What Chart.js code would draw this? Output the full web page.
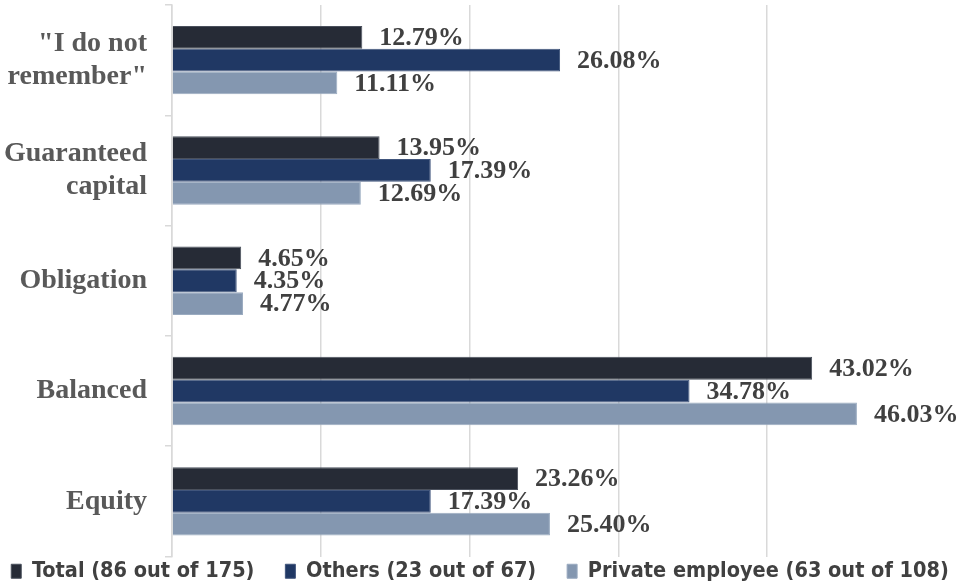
<!DOCTYPE html>
<html>
<head>
<meta charset="utf-8">
<script src="https://cdn.jsdelivr.net/npm/chart.js"></script>
<style>
  html, body { margin: 0; padding: 0; background: #fff; }
  #wrap { width: 960px; height: 585px; }
</style>
</head>
<body>
<div id="wrap"><canvas id="c"></canvas></div>
<script>
// categories, top to bottom
const categories = [['"I do not', 'remember"'], ['Guaranteed', 'capital'], 'Obligation', 'Balanced', 'Equity'];

// series values (percent)
const totalValues   = [12.79, 13.95, 4.65, 43.02, 23.26];
const othersValues  = [26.08, 17.39, 4.35, 34.78, 17.39];
const privateValues = [11.11, 12.69, 4.77, 46.03, 25.40];

const seriesNames = ['Total (86 out of 175)', 'Others (23 out of 67)', 'Private employee (63 out of 108)'];

const serif = '"Liberation Serif", "DejaVu Serif", serif';
const condensed = '"DejaVu Sans Condensed", "DejaVu Sans", sans-serif';

// draws the percentage next to the end of every bar
const valueLabels = {
  id: 'valueLabels',
  afterDatasetsDraw(chart) {
    const ctx = chart.ctx;
    ctx.save();
    ctx.font = 'bold 26px ' + serif;
    ctx.fillStyle = '#404040';
    ctx.textAlign = 'left';
    ctx.textBaseline = 'middle';
    chart.data.datasets.forEach((ds, i) => {
      const meta = chart.getDatasetMeta(i);
      meta.data.forEach((bar, j) => {
        ctx.fillText(ds.data[j].toFixed(2) + '%', bar.x + 17, bar.y + 1);
      });
    });
    ctx.restore();
  }
};

new Chart(document.getElementById('c'), {
  type: 'bar',
  data: {
    labels: categories,
    datasets: [
      { label: seriesNames[0], data: totalValues,   backgroundColor: '#262b36', borderColor: '#4a505c', borderWidth: 1 },
      { label: seriesNames[1], data: othersValues,  backgroundColor: '#203864', borderColor: '#40557c', borderWidth: 1 },
      { label: seriesNames[2], data: privateValues, backgroundColor: '#8497b0', borderColor: '#9aabc0', borderWidth: 1 }
    ]
  },
  options: {
    indexAxis: 'y',
    responsive: true,
    maintainAspectRatio: false,
    animation: false,
    categoryPercentage: 0.62,
    barPercentage: 1.0,
    layout: { padding: { top: 5, right: 0, left: 0, bottom: -7 } },
    plugins: {
      tooltip: { enabled: false },
      legend: {
        position: 'bottom',
        labels: {
          boxWidth: 10,
          boxHeight: 14,
          padding: 4,
          color: '#404040',
          font: { family: condensed, size: 21.5, weight: 'bold' },
          // extra spaces only widen the gap between the legend entries
          generateLabels(chart) {
            const items = Chart.defaults.plugins.legend.labels.generateLabels(chart);
            items.forEach((it, i) => { if (i < items.length - 1) it.text += '    '; });
            return items;
          }
        }
      }
    },
    scales: {
      x: {
        min: 0,
        // room on the right for the value labels: the 50% line sits 44px from the edge
        max: 50 * 788 / 744,
        ticks: { display: false, stepSize: 10 },
        grid: {
          color: (c) => (c.tick && c.tick.value % 10 === 0 ? '#d9d9d9' : 'rgba(0,0,0,0)'),
          lineWidth: 1.5,
          drawTicks: false
        },
        border: { display: false }
      },
      y: {
        afterFit(scale) {
          scale.width = 172;
          scale.paddingTop = 0;
          scale.paddingBottom = 0;
        },
        ticks: {
          color: '#595959',
          padding: 18,
          font: { family: serif, size: 28, weight: 'bold' }
        },
        grid: { drawOnChartArea: false, drawTicks: true, tickLength: 7, color: '#d9d9d9', lineWidth: 1.5 },
        border: { color: '#d9d9d9', width: 1.5 }
      }
    }
  },
  plugins: [valueLabels]
});
</script>
</body>
</html>
